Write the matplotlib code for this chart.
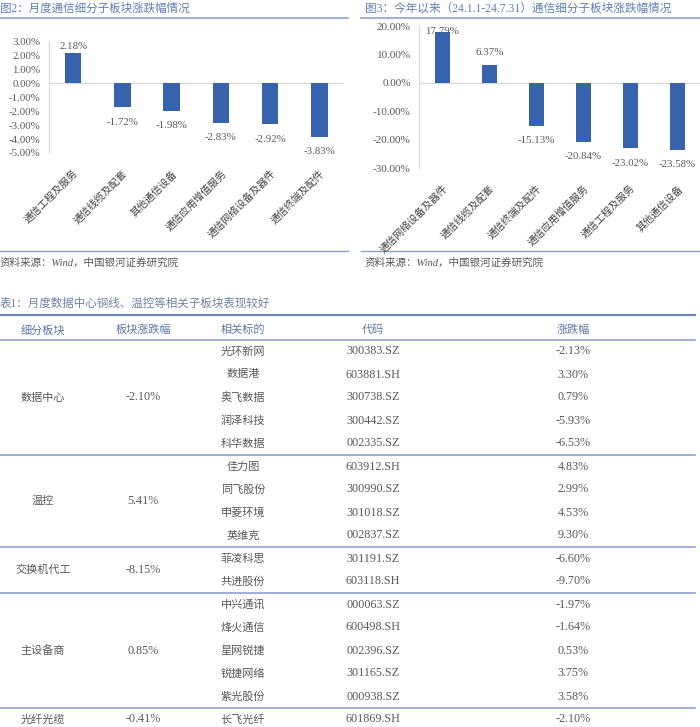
import matplotlib
matplotlib.use("Agg")
import matplotlib.pyplot as plt

CJK = ["Liberation Serif", "Noto Sans CJK SC", "DejaVu Sans"]
plt.rcParams["font.family"] = CJK

# ---- data ----
left_title = "图2：月度通信细分子板块涨跌幅情况"
left_cats = ["通信工程及服务", "通信线缆及配套", "其他通信设备",
             "通信应用增值服务", "通信网络设备及器件", "通信终端及配件"]
left_vals = [2.18, -1.72, -1.98, -2.83, -2.92, -3.83]
left_ticks = [3, 2, 1, 0, -1, -2, -3, -4, -5]

right_title = "图3：今年以来（24.1.1-24.7.31）通信细分子板块涨跌幅情况"
right_cats = ["通信网络设备及器件", "通信线缆及配套", "通信终端及配件",
              "通信应用增值服务", "通信工程及服务", "其他通信设备"]
right_vals = [17.79, 6.37, -15.13, -20.84, -23.02, -23.58]
right_ticks = [20, 10, 0, -10, -20, -30]

source = "资料来源：Wind，中国银河证券研究院"

table_title = "表1：月度数据中心铜线、温控等相关子板块表现较好"
headers = ["细分板块", "板块涨跌幅", "相关标的", "代码", "涨跌幅"]
groups = ["数据中心", "温控", "交换机代工", "主设备商", "光纤光缆"]
group_changes = ["-2.10%", "5.41%", "-8.15%", "0.85%", "-0.41%"]
group_sizes = [5, 4, 2, 5, 1]
stocks = ["光环新网", "数据港", "奥飞数据", "润泽科技", "科华数据",
          "佳力图", "同飞股份", "申菱环境", "英维克",
          "菲凌科思", "共进股份",
          "中兴通讯", "烽火通信", "星网锐捷", "锐捷网络", "紫光股份",
          "长飞光纤"]
codes = ["300383.SZ", "603881.SH", "300738.SZ", "300442.SZ", "002335.SZ",
         "603912.SH", "300990.SZ", "301018.SZ", "002837.SZ",
         "301191.SZ", "603118.SH",
         "000063.SZ", "600498.SH", "002396.SZ", "301165.SZ", "000938.SZ",
         "601869.SH"]
stock_changes = ["-2.13%", "3.30%", "0.79%", "-5.93%", "-6.53%",
                 "4.83%", "2.99%", "4.53%", "9.30%",
                 "-6.60%", "-9.70%",
                 "-1.97%", "-1.64%", "0.53%", "3.75%", "3.58%",
                 "-2.10%"]

# ---- styles ----
W, H = 700, 727
BAR = "#3763ae"
TITLE_C = "#5d80b6"
LINE_C = "#8ea2c9"
TEXT_C = "#595959"
AXIS_C = "#d9d9d9"
FS_CJK = 8.0   # Chinese text in table
FS_NUM = 8.7   # numbers in table

fig = plt.figure(figsize=(W / 100, H / 100), dpi=100)

# overlay in pixel coordinates for titles, rules and the table
ov = fig.add_axes([0, 0, 1, 1])
ov.set_xlim(0, W)
ov.set_ylim(H, 0)
ov.axis("off")


def bar_chart(rect_px, cats, vals, ticks, fs_tick):
    x0, y0, x1, y1 = rect_px
    ax = fig.add_axes([x0 / W, 1 - y1 / H, (x1 - x0) / W, (y1 - y0) / H])
    ax.patch.set_alpha(0)
    pos = range(len(cats))
    ax.bar(pos, vals, width=0.33, color=BAR, zorder=3)
    ax.set_xlim(-0.5, len(cats) - 0.5)
    ax.set_ylim(min(ticks), max(ticks))
    ax.set_yticks(ticks)
    ax.set_yticklabels([f"{t:.2f}%" for t in ticks], fontsize=fs_tick, color=TEXT_C)
    ax.set_xticks(list(pos))
    ax.set_xticklabels(cats, rotation=45, ha="right", rotation_mode="anchor",
                       fontsize=7.3, color="#404040")
    ax.tick_params(length=0, axis="y", pad=6)
    ax.tick_params(length=0, axis="x", pad=11)
    for s in ["top", "right", "bottom"]:
        ax.spines[s].set_visible(False)
    ax.spines["left"].set_color(AXIS_C)
    ax.axhline(0, color=AXIS_C, lw=1, zorder=2)
    # value labels
    px_per_unit = (y1 - y0) / (max(ticks) - min(ticks))
    top = max(ticks) - 5 / px_per_unit
    for i, v in enumerate(vals):
        if v >= 0:
            y = min(v + 12 / px_per_unit, top)
        else:
            y = v - 15 / px_per_unit
        ax.text(i, y, f"{v:.2f}%", ha="center", va="center",
                fontsize=7.8, color=TEXT_C, zorder=4, clip_on=False)
    return ax


bar_chart((48.5, 41.7, 344, 153), left_cats, left_vals, left_ticks, 7.8)
bar_chart((419, 26, 701, 168), right_cats, right_vals, right_ticks, 8.0)

# chart headers and footers
ov.text(0, 9, left_title, fontsize=8.3, color=TITLE_C, va="center", ha="left")
ov.text(365, 9, right_title, fontsize=8.4, color=TITLE_C, va="center", ha="left")
ov.plot([0, 348], [18, 18], color=LINE_C, lw=1.2)
ov.plot([361, 700], [18, 18], color=LINE_C, lw=1.2)
ov.plot([0, 348], [251, 251], color=LINE_C, lw=1.0)
ov.plot([361, 700], [251, 251], color=LINE_C, lw=1.0)
ov.text(0, 263, source, fontsize=7.6, color=TEXT_C, style="italic", va="center")
ov.text(365, 263, source, fontsize=7.6, color=TEXT_C, style="italic", va="center")

# table
ov.text(0, 304, table_title, fontsize=8.3, color="#6f82a8", va="center")
ov.plot([0, 695], [315, 315], color="#6f86b8", lw=1.6)
col_x = [43, 143, 243, 373, 573]
for x, h in zip(col_x, headers):
    ov.text(x, 330, h, fontsize=FS_CJK, color="#5a78aa", ha="center", va="center")
ov.plot([0, 695], [340, 340], color=LINE_C, lw=1.2)

row_h = 23
start = 340
row = 0
for g, gc, n in zip(groups, group_changes, group_sizes):
    y_top = start + row * row_h
    y_mid = y_top + n * row_h / 2
    ov.text(col_x[0], y_mid, g, fontsize=FS_CJK, color=TEXT_C, ha="center", va="center")
    ov.text(col_x[1], y_mid, gc, fontsize=FS_NUM, color=TEXT_C, ha="center", va="center")
    for k in range(n):
        yc = y_top + (k + 0.5) * row_h
        ov.text(col_x[2], yc, stocks[row + k], fontsize=FS_CJK, color=TEXT_C,
                ha="center", va="center")
        ov.text(col_x[3], yc, codes[row + k], fontsize=FS_NUM, color=TEXT_C,
                ha="center", va="center")
        ov.text(col_x[4], yc, stock_changes[row + k], fontsize=FS_NUM, color=TEXT_C,
                ha="center", va="center")
    row += n
    if row < len(stocks):
        ov.plot([0, 695], [start + row * row_h] * 2, color=LINE_C, lw=1.2)

fig.savefig("out.png", dpi=100)
